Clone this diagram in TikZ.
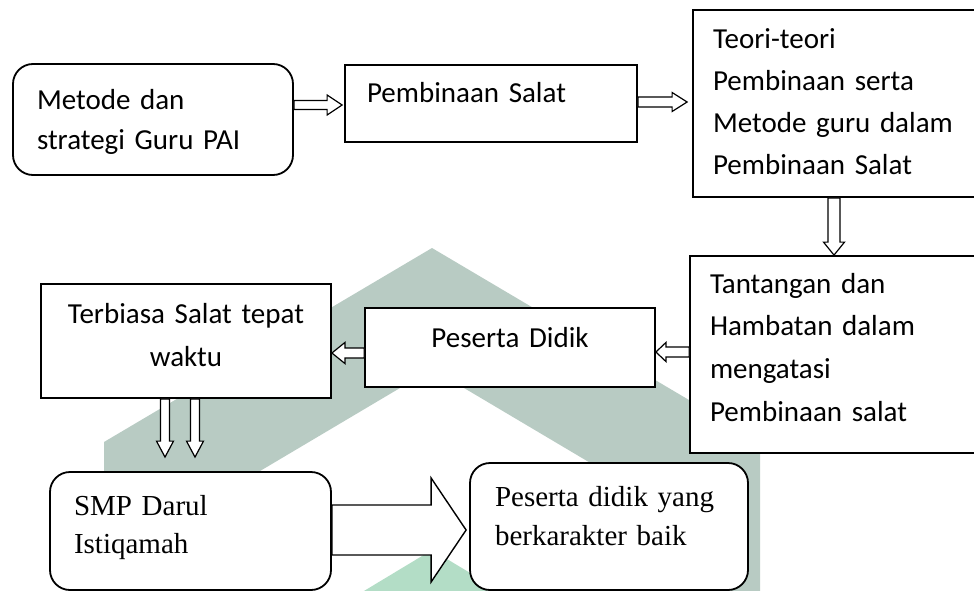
\documentclass[tikz,border=0pt]{standalone}
\usepackage{fontspec}
\setmainfont{Carlito}
\newfontfamily\timesfont{Liberation Serif}
\usetikzlibrary{calc}
\definecolor{logogrey}{RGB}{184,203,195}
\definecolor{logomint}{RGB}{179,221,198}
\tikzset{
box/.style={draw,line width=1.8pt,fill=white,inner ysep=0pt},
roundbox/.style={box,rounded corners=20pt},
arrline/.style={draw,fill=white,line width=1.2pt,line join=miter},
}
\newcommand{\hollowarrow}[6][]{%
\coordinate (headbase) at ($(#3)!#6!(#2)$);
\draw[arrline,#1] ($(#2)!#4!90:(#3)$) -- ($(headbase)!#4!-90:(#2)$) -- ($(headbase)!#5!-90:(#2)$) -- (#3)
 -- ($(headbase)!#5!90:(#2)$) -- ($(headbase)!#4!90:(#2)$) -- ($(#2)!#4!-90:(#3)$) -- cycle;}

\begin{document}
\begin{tikzpicture}[x=1pt,y=-1pt]
\useasboundingbox (0,0) rectangle (974,591);
\fill[logogrey] (104,600)--(104,442)--(432,248)--(760,442)--(760,600)--(700,600)--(700,528)--(432,369)--(164,528)--(164,600)--cycle;
\fill[logomint] (349,600)--(432,550)--(515,600)--cycle;

\node[roundbox,minimum width=280pt,minimum height=111pt,text width=232pt,inner xsep=24pt,align=left,
  text height=46pt,text depth=65pt,font=\fontsize{29}{40}\selectfont] (metode) at (153,119.5) {Metode dan\\strategi Guru PAI};
\node[box,minimum width=292pt,minimum height=77pt,text width=248pt,inner xsep=22pt,align=left,
  text height=38pt,text depth=39pt,font=\fontsize{29}{42}\selectfont] (pembinaan) at (491,103.5) {Pembinaan Salat};
\node[box,minimum width=307pt,minimum height=187pt,text width=267pt,inner xsep=20pt,align=left,
  text height=39pt,text depth=148pt,font=\fontsize{29}{42}\selectfont] (teori) at (846.5,103.5)
  {Teori-teori\\Pembinaan serta\\Metode guru dalam\\Pembinaan Salat};
\node[box,minimum width=310pt,minimum height=197pt,text width=270pt,inner xsep=20pt,align=left,
  text height=37pt,text depth=160pt,font=\fontsize{29}{42.8}\selectfont] (tantangan) at (845,354.5)
  {Tantangan dan\\Hambatan dalam\\mengatasi\\Pembinaan salat};
\node[box,minimum width=290pt,minimum height=79pt,text width=270pt,inner xsep=10pt,align=center,
  text height=39pt,text depth=40pt,font=\fontsize{29}{42}\selectfont] (didik) at (510,347.5) {Peserta Didik};
\node[box,minimum width=290pt,minimum height=114pt,text width=270pt,inner xsep=10pt,align=center,
  text height=39pt,text depth=75pt,font=\fontsize{29}{43}\selectfont] (terbiasa) at (186,341) {Terbiasa Salat tepat\\waktu};
\node[roundbox,minimum width=281pt,minimum height=118pt,text width=233pt,inner xsep=24pt,align=left,
  text height=43pt,text depth=75pt,font=\timesfont\fontsize{29}{38}\selectfont] (smp) at (190.5,531) {SMP Darul\\Istiqamah};
\node[roundbox,minimum width=278pt,minimum height=127pt,text width=228pt,inner xsep=25pt,align=left,
  text height=43pt,text depth=84pt,font=\timesfont\fontsize{29}{39}\selectfont] (karakter) at (609,526.5) {Peserta didik yang\\berkarakter baik};

\coordinate (a1s) at (metode.east |- 0,105);
\coordinate (a1e) at ($(pembinaan.west |- 0,105)+(-2,0)$);
\coordinate (a2s) at (pembinaan.east |- 0,102);
\coordinate (a2e) at ($(teori.west |- 0,102)+(-5,0)$);
\coordinate (a3s) at (teori.south -| 834,0);
\coordinate (a3e) at (tantangan.north -| 834,0);
\coordinate (a4s) at (tantangan.west |- 0,352);
\coordinate (a4e) at (didik.east |- 0,352);
\coordinate (a5s) at (didik.west |- 0,353);
\coordinate (a5e) at (terbiasa.east |- 0,353);
\coordinate (a6s) at (terbiasa.south -| 165,0);
\coordinate (a6e) at ($(smp.north -| 165,0)+(0,-14)$);
\coordinate (a7s) at (terbiasa.south -| 195,0);
\coordinate (a7e) at ($(smp.north -| 195,0)+(0,-14)$);
\coordinate (a8s) at (smp.east |- 0,530);
\coordinate (a8e) at ($(karakter.west |- 0,530)+(-3,0)$);
\hollowarrow{a1s}{a1e}{4.5pt}{10pt}{15pt}
\hollowarrow{a2s}{a2e}{5pt}{9.5pt}{15pt}
\hollowarrow{a3s}{a3e}{6pt}{10.5pt}{13pt}
\hollowarrow{a4s}{a4e}{5pt}{9.5pt}{10pt}
\hollowarrow{a5s}{a5e}{5pt}{10.5pt}{13pt}
\hollowarrow{a6s}{a6e}{4.5pt}{8.5pt}{16pt}
\hollowarrow{a7s}{a7e}{4.5pt}{8.5pt}{16pt}
\hollowarrow[line width=1.4pt]{a8s}{a8e}{25pt}{52pt}{35pt}
\end{tikzpicture}
\end{document}
